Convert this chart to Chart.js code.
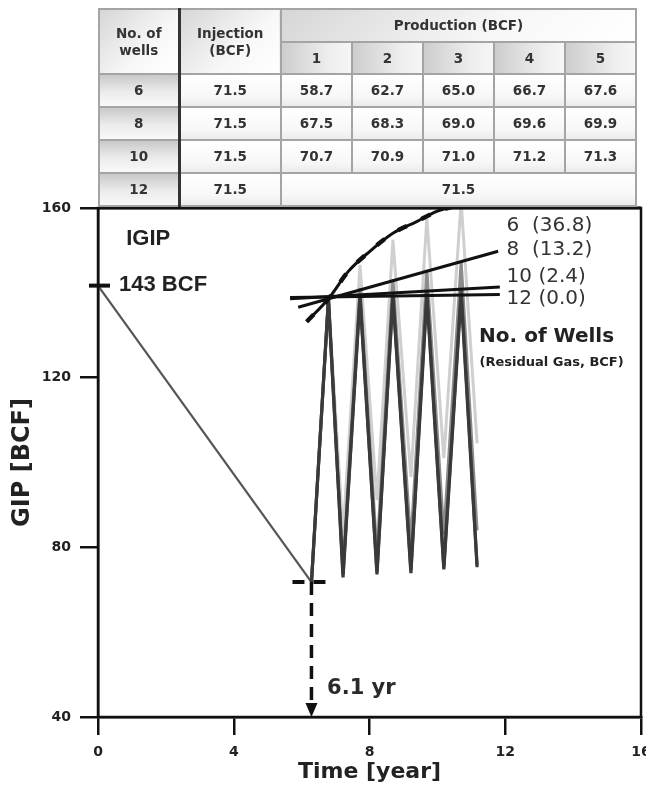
<!DOCTYPE html>
<html>
<head>
<meta charset="utf-8">
<script src="https://cdn.jsdelivr.net/npm/chart.js@4.4.0/dist/chart.umd.min.js"></script>
<style>
  html, body { margin: 0; padding: 0; background: #fff; overflow: hidden; }
  #wrap { position: relative; width: 646px; height: 787px; }
  #gip { position: absolute; left: 0; top: 0; }
  #tbl {
    position: absolute; left: 98px; top: 8px; width: 539px; height: 198px;
    border-collapse: collapse; table-layout: fixed;
    font-family: "DejaVu Sans", sans-serif; font-weight: bold; font-size: 13.5px; color: #333;
    border: 2px solid #444;
  }
  #tbl td { border: 2px solid #a4a4a4; text-align: center; padding: 0; line-height: 1.25; }
  #tbl .hd { background: linear-gradient(135deg, #d6d6d6 0%, #f7f7f7 60%, #ffffff 100%); }
  #tbl .sub { background: linear-gradient(90deg, #cdcdcd 0%, #eeeeee 70%, #f6f6f6 100%); }
  #tbl .wc { background: linear-gradient(180deg, #c9c9c9 0%, #ececec 55%, #f8f8f8 100%); }
  #tbl .val { background: linear-gradient(180deg, #ffffff 0%, #f7f7f7 70%, #ebebeb 100%); }
  #tbl .sep { border-right: 3px solid #333; }
</style>
</head>
<body>
<div id="wrap">
  <canvas id="gip" width="646" height="787"></canvas>
  <table id="tbl"></table>
</div>
<script>
// table values (BCF)
const wellCounts = [6, 8, 10, 12];
const injected = [71.5, 71.5, 71.5, 71.5];
const cycleNo = [1, 2, 3, 4, 5];
const produced6 = [58.7, 62.7, 65.0, 66.7, 67.6];
const produced8 = [67.5, 68.3, 69.0, 69.6, 69.9];
const produced10 = [70.7, 70.9, 71.0, 71.2, 71.3];
const produced12 = [71.5];

// depletion then storage cycles
const depletionTime = [0, 6.29];
const depletionGip = [141.7, 71.8];
const cycleTime = [6.29, 6.79, 7.22, 7.72, 8.22, 8.69, 9.22, 9.69, 10.19, 10.7, 11.17];
const gip6 = [71.8, 138.6, 83.3, 146.6, 91.1, 152.5, 96.6, 157.6, 101.0, 161.5, 104.5];
const gip8 = [71.8, 138.6, 75.5, 141.1, 78.5, 143.2, 81.0, 145.4, 83.0, 147.3, 84.0];
const gip10 = [71.8, 138.6, 73.6, 139.5, 74.2, 140.0, 74.6, 140.4, 75.3, 140.9, 75.8];
const gip12 = [71.8, 138.6, 72.9, 138.9, 73.6, 139.1, 73.9, 139.3, 74.8, 139.5, 75.3];

// peak trend lines
const trend6Time = [6.15, 6.79, 7.37, 8.01, 8.70, 9.39, 9.98, 10.47, 10.8];
const trend6 = [133.2, 138.6, 145.0, 149.8, 154.1, 156.8, 159.2, 160.4, 161.5];
const trend8Time = [5.9, 11.79];
const trend8 = [136.6, 149.8];
const trend10Time = [5.66, 11.84];
const trend10 = [138.6, 141.4];
const trend12Time = [5.66, 11.84];
const trend12 = [138.9, 139.6];

const residualLabels = ['6  (36.8)', '8  (13.2)', '10 (2.4)', '12 (0.0)'];
const residualLabelY = [155.9, 150.2, 143.85, 138.5];

const igip = 141.7;
const switchTime = 6.29;
const switchGip = 71.8;

function pts(xs, ys) {
  return xs.map((x, i) => ({ x: x, y: ys[i] }));
}

// build the table
function cell(text, cls, extra) {
  return '<td class="' + cls + '"' + (extra || '') + '>' + text + '</td>';
}
let html = '<colgroup><col style="width:80px"><col style="width:102px">' +
  cycleNo.map(() => '<col>').join('') + '</colgroup>';
html += '<tr style="height:33px">' + cell('No. of<br>wells', 'hd sep', ' rowspan="2"') +
  cell('Injection<br>(BCF)', 'hd', ' rowspan="2"') +
  cell('Production (BCF)', 'hd', ' colspan="5"') + '</tr>';
html += '<tr style="height:32px">' + cycleNo.map(n => cell(n, 'sub')).join('') + '</tr>';
const prodRows = [produced6, produced8, produced10, produced12];
wellCounts.forEach((w, r) => {
  const p = prodRows[r];
  let row = '<tr style="height:33px">' + cell(w, 'wc sep') + cell(injected[r].toFixed(1), 'val');
  if (p.length === 1) {
    row += cell(p[0].toFixed(1), 'val', ' colspan="5"');
  } else {
    row += p.map(v => cell(v.toFixed(1), 'val')).join('');
  }
  html += row + '</tr>';
});
document.getElementById('tbl').innerHTML = html;

const notes = {
  id: 'notes',
  afterDatasetsDraw(chart) {
    const { ctx, chartArea: a, scales: { x, y } } = chart;
    ctx.save();
    // frame
    ctx.strokeStyle = '#111';
    ctx.lineWidth = 2.5;
    ctx.strokeRect(a.left, a.top, a.right - a.left, a.bottom - a.top);
    ctx.beginPath();
    ctx.lineWidth = 3;
    ctx.moveTo(a.left, a.top);
    ctx.lineTo(a.right, a.top);
    ctx.stroke();

    // IGIP tick
    const yi = y.getPixelForValue(igip);
    ctx.lineWidth = 4;
    ctx.beginPath();
    ctx.moveTo(a.left - 9, yi);
    ctx.lineTo(a.left + 12, yi);
    ctx.stroke();

    // switch-over marker
    const xs = x.getPixelForValue(switchTime);
    const ys = y.getPixelForValue(switchGip);
    ctx.setLineDash([12, 9]);
    ctx.lineWidth = 4;
    ctx.beginPath();
    ctx.moveTo(xs - 19, ys);
    ctx.lineTo(xs + 17, ys);
    ctx.stroke();
    ctx.lineWidth = 3.5;
    ctx.setLineDash([13, 8]);
    ctx.beginPath();
    ctx.moveTo(xs, ys);
    ctx.lineTo(xs, a.bottom - 14);
    ctx.stroke();
    ctx.setLineDash([]);
    ctx.fillStyle = '#111';
    ctx.beginPath();
    ctx.moveTo(xs - 6, a.bottom - 14);
    ctx.lineTo(xs + 6, a.bottom - 14);
    ctx.lineTo(xs, a.bottom);
    ctx.closePath();
    ctx.fill();

    // texts
    ctx.textBaseline = 'middle';
    ctx.textAlign = 'left';
    ctx.fillStyle = '#222';
    ctx.font = 'bold 22px "Liberation Sans", Arial, sans-serif';
    ctx.fillText('IGIP', x.getPixelForValue(0.83), y.getPixelForValue(152.6));
    ctx.fillText('143 BCF', x.getPixelForValue(0.62), y.getPixelForValue(141.9));
    ctx.fillStyle = '#2a2a2a';
    ctx.font = 'bold 21px "DejaVu Sans", sans-serif';
    ctx.fillText('6.1 yr', x.getPixelForValue(6.75), y.getPixelForValue(46.7));

    ctx.fillStyle = '#333';
    ctx.font = '20px "DejaVu Sans", sans-serif';
    residualLabels.forEach((t, i) => {
      ctx.fillText(t, x.getPixelForValue(12.04), y.getPixelForValue(residualLabelY[i]));
    });
    ctx.fillStyle = '#222';
    ctx.font = 'bold 20px "DejaVu Sans", sans-serif';
    ctx.fillText('No. of Wells', x.getPixelForValue(11.23), y.getPixelForValue(129.6));
    ctx.font = 'bold 13px "DejaVu Sans", sans-serif';
    ctx.fillText('(Residual Gas, BCF)', x.getPixelForValue(11.24), y.getPixelForValue(123.5));
    ctx.restore();
  }
};

const zig = (data, color, width) => ({
  data: data, borderColor: color, borderWidth: width, pointRadius: 0, tension: 0, fill: false
});
const trend = (data, width, dash) => ({
  data: data, borderColor: '#111', borderWidth: width, borderDash: dash || [], pointRadius: 0, fill: false,
  cubicInterpolationMode: 'monotone'
});

new Chart(document.getElementById('gip'), {
  type: 'line',
  data: {
    datasets: [
      trend(pts(trend6Time, trend6), 4.5, [10, 16]),
      trend(pts(trend6Time, trend6), 3),
      trend(pts(trend8Time, trend8), 3),
      trend(pts(trend10Time, trend10), 3),
      trend(pts(trend12Time, trend12), 3),
      zig(pts(cycleTime, gip12), '#3a3a3a', 3.2),
      zig(pts(cycleTime, gip10), '#4a4a4a', 3.2),
      zig(pts(cycleTime, gip8), '#8c8c8c', 3),
      zig(pts(cycleTime, gip6), '#cfcfcf', 3),
      zig(pts(depletionTime, depletionGip), '#555', 2.2)
    ]
  },
  options: {
    responsive: false,
    animation: false,
    events: [],
    layout: { padding: { top: 208, right: 5, left: 0, bottom: 0 } },
    plugins: { legend: { display: false }, tooltip: { enabled: false } },
    scales: {
      x: {
        type: 'linear', min: 0, max: 16,
        ticks: { stepSize: 4, padding: 9, color: '#222', font: { family: 'DejaVu Sans', weight: 'bold', size: 14 } },
        grid: { drawOnChartArea: false, tickLength: 18, color: '#111', lineWidth: 2.5 },
        border: { color: '#111', width: 2.5 },
        title: { display: true, text: 'Time [year]', color: '#222', padding: { bottom: 2 },
          font: { family: 'DejaVu Sans', weight: 'bold', size: 22 } },
        afterFit(s) { s.height = 70; s.paddingLeft = 0; s.paddingRight = 0; }
      },
      y: {
        min: 40, max: 160,
        ticks: { stepSize: 40, padding: 9, color: '#222', font: { family: 'DejaVu Sans', weight: 'bold', size: 14 } },
        grid: { drawOnChartArea: false, tickLength: 18, color: '#111', lineWidth: 2.5 },
        border: { color: '#111', width: 2.5 },
        title: { display: true, text: 'GIP [BCF]', color: '#222', padding: { top: 8 },
          font: { family: 'DejaVu Sans', weight: 'bold', size: 24 } },
        afterFit(s) { s.width = 98; s.paddingTop = 0; s.paddingBottom = 0; }
      }
    }
  },
  plugins: [notes]
});
</script>
</body>
</html>
